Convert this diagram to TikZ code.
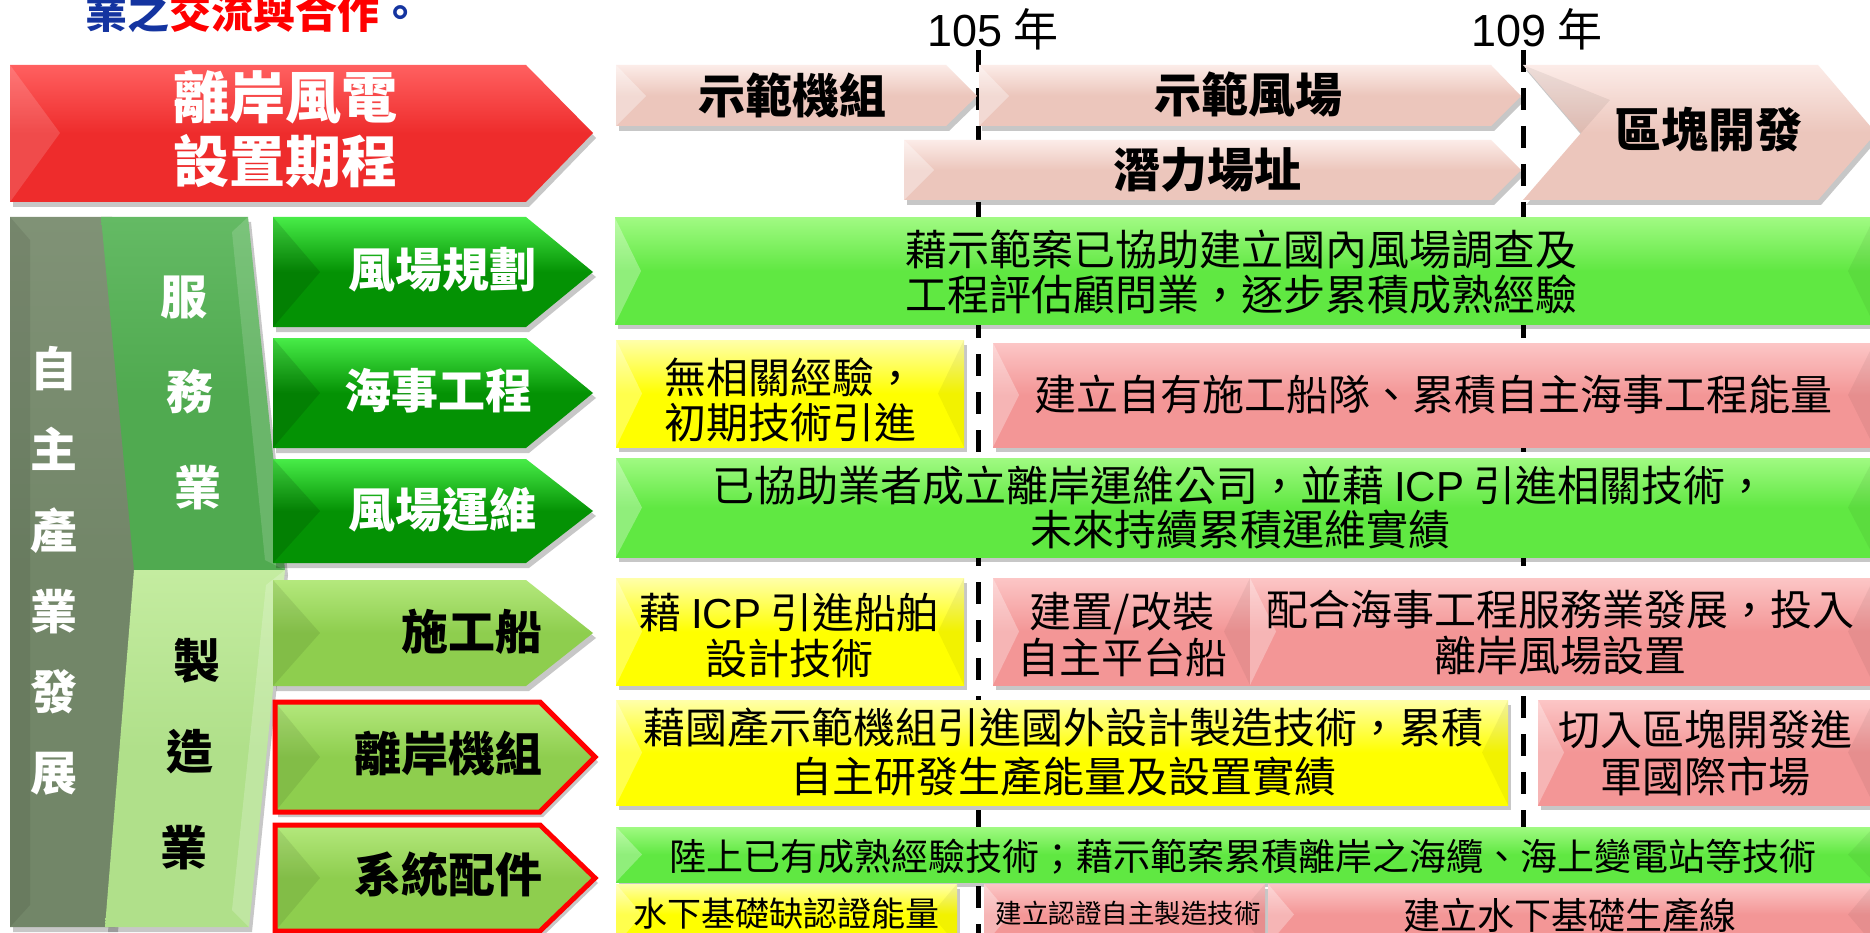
\documentclass[tikz,border=0pt]{standalone}
\usepackage{fontspec}
\setmainfont{Noto Sans CJK TC}
\newfontfamily\latinf{Liberation Sans}
\definecolor{hdrTop}{RGB}{252,236,232}
\definecolor{hdrBase}{RGB}{236,198,188}
\definecolor{redTop}{RGB}{255,96,96}
\definecolor{redBase}{RGB}{238,44,44}
\definecolor{dgTop}{RGB}{72,236,72}
\definecolor{dgBase}{RGB}{4,146,4}
\definecolor{lgTop}{RGB}{180,232,125}
\definecolor{lgBase}{RGB}{142,206,78}
\definecolor{bgTop}{RGB}{160,250,130}
\definecolor{bgBase}{RGB}{96,232,66}
\definecolor{byTop}{RGB}{255,255,170}
\definecolor{byBase}{RGB}{255,255,0}
\definecolor{bpTop}{RGB}{252,198,198}
\definecolor{bpBase}{RGB}{243,150,150}
\definecolor{grayTop}{RGB}{128,146,118}
\definecolor{grayBase}{RGB}{114,134,104}
\definecolor{midTop}{RGB}{100,186,100}
\definecolor{midBase}{RGB}{80,170,80}
\definecolor{paleTop}{RGB}{196,236,160}
\definecolor{paleBase}{RGB}{176,224,138}
\definecolor{topblue}{RGB}{20,52,160}
\definecolor{topred}{RGB}{255,0,0}
\newcommand{\Bx}[6]{%
  \fill[black,opacity=.22] (#1+3,#2+5) rectangle (#3+3,#4+5);
  \shade[top color=#5, bottom color=#6, middle color=#6] (#1,#2) rectangle (#3,#4);
  \fill[white,opacity=.3] (#1,#2) -- ({#1+26},{(#2+#4)/2}) -- (#1,#4) -- cycle;
  \fill[black,opacity=.05] (#3,#2) -- ({#3-26},{(#2+#4)/2}) -- (#3,#4) -- cycle;
}
\newcommand{\Shp}[3]{%
  \fill[black,opacity=.22,shift={(3,5)}] #1;
  \shade[top color=#2, bottom color=#3, middle color=#3] #1;
}
\begin{document}
\begin{tikzpicture}[x=1pt,y=-1pt,
  txt/.style={inner sep=0pt, align=center, text=black, font=\fontsize{42}{45}\selectfont},
  lbl/.style={inner sep=0pt, align=center, font=\bfseries\fontsize{47}{50}\selectfont},
  yr/.style={inner sep=0pt, text=black, font=\fontsize{45}{48}\selectfont},
  dline/.style={line width=5pt, black, dash pattern=on 22pt off 16pt}]
\useasboundingbox (0,0) rectangle (1870,933);
\fill[white] (0,0) rectangle (1870,933);

% top text
\node[inner sep=0pt, anchor=base west, font=\bfseries\fontsize{42}{45}\selectfont] (toptext) at (85,29)
  {{\color{topblue}業之}{\color{topred}交流與合作}{\color{topblue}。}};

% year labels and dashed lines
\node[yr, anchor=base] (y105) at (993,47) {{\latinf 105} 年};
\node[yr, anchor=base] (y109) at (1537,47) {{\latinf 109} 年};
\coordinate (d1a) at (978,50); \coordinate (d1b) at (978,940);
\coordinate (d2a) at (1523,50); \coordinate (d2b) at (1523,940);
\draw[dline] (d1a) -- (d1b);
\draw[dline] (d2a) -- (d2b);

% red header arrow
\Shp{(10,65) -- (526,65) -- (593,133) -- (526,202) -- (10,202) -- cycle}{redTop}{redBase}
\fill[white,opacity=.15] (10,65) -- (60,133) -- (10,202) -- cycle;
\node[lbl, text=white, font=\bfseries\fontsize{56}{64}\selectfont] (hdr) at (285,129) {離岸風電\\設置期程};

% timeline chevrons
\Shp{(616,65) -- (946,65) -- (977,96) -- (946,126) -- (616,126) -- cycle}{hdrTop}{hdrBase}
\fill[white,opacity=.35] (616,65) -- (646,96) -- (616,126) -- cycle;
\node[lbl, text=black] (t1) at (792,95) {示範機組};
\Shp{(979,65) -- (1491,65) -- (1521,96) -- (1491,126) -- (979,126) -- cycle}{hdrTop}{hdrBase}
\fill[white,opacity=.35] (979,65) -- (1009,96) -- (979,126) -- cycle;
\node[lbl, text=black] (t2) at (1248,95) {示範風場};
\Shp{(904,140) -- (1491,140) -- (1521,170) -- (1491,200) -- (904,200) -- cycle}{hdrTop}{hdrBase}
\fill[white,opacity=.35] (904,140) -- (934,170) -- (904,200) -- cycle;
\node[lbl, text=black] (t3) at (1207,170) {潛力場址};
\Shp{(1523,65) -- (1818,65) -- (1876,133) -- (1818,200) -- (1523,200) -- (1581,133) -- cycle}{hdrTop}{hdrBase}
\fill[black,opacity=.06] (1523,65) -- (1581,133) -- (1610,100) -- cycle;
\node[lbl, text=black] (t4) at (1708,130) {區塊開發};

% left column
\Shp{(10,217) -- (112,217) -- (145,570) -- (115,927) -- (10,927) -- cycle}{grayTop}{grayBase}
\fill[black,opacity=.08] (10,217) -- (30,240) -- (30,905) -- (10,927) -- cycle;
\Shp{(101,217) -- (248,217) -- (285,570) -- (134,570) -- cycle}{midTop}{midBase}
\fill[white,opacity=.15] (248,217) -- (285,570) -- (265,560) -- (232,232) -- cycle;
\Shp{(134,570) -- (285,570) -- (249,927) -- (105,927) -- cycle}{paleTop}{paleBase}
\fill[white,opacity=.2] (285,570) -- (249,927) -- (232,910) -- (266,585) -- cycle;
\node[lbl, text=white, font=\bfseries\fontsize{47}{80.8}\selectfont] (self) at (54,571) {自\\主\\產\\業\\發\\展};
\node[lbl, text=white] (sv1) at (184,297) {服};
\node[lbl, text=white] (sv2) at (190,392) {務};
\node[lbl, text=white] (sv3) at (198,488) {業};
\node[lbl, text=black] (mf1) at (197,661) {製};
\node[lbl, text=black] (mf2) at (190,752) {造};
\node[lbl, text=black] (mf3) at (184,848) {業};

% row label arrows
\Shp{(273,217) -- (526,217) -- (593,272) -- (526,327) -- (273,327) -- cycle}{dgTop}{dgBase}
\fill[black,opacity=.12] (273,217) -- (320,272) -- (273,327) -- cycle;
\node[lbl, text=white, anchor=east] (r1) at (537,270) {風場規劃};
\Shp{(273,338) -- (526,338) -- (593,393) -- (526,448) -- (273,448) -- cycle}{dgTop}{dgBase}
\fill[black,opacity=.12] (273,338) -- (320,393) -- (273,448) -- cycle;
\node[lbl, text=white, anchor=east] (r2) at (533,391) {海事工程};
\Shp{(273,459) -- (526,459) -- (593,511) -- (526,563) -- (273,563) -- cycle}{dgTop}{dgBase}
\fill[black,opacity=.12] (273,459) -- (320,511) -- (273,563) -- cycle;
\node[lbl, text=white, anchor=east] (r3) at (537,510) {風場運維};
\Shp{(273,580) -- (526,580) -- (593,633) -- (526,686) -- (273,686) -- cycle}{lgTop}{lgBase}
\fill[black,opacity=.08] (273,580) -- (320,633) -- (273,686) -- cycle;
\node[lbl, text=black, anchor=east] (r4) at (543,632) {施工船};
\Shp{(275,702) -- (540,702) -- (595,757) -- (540,812) -- (275,812) -- cycle}{lgTop}{lgBase}
\fill[black,opacity=.08] (275,702) -- (320,757) -- (275,812) -- cycle;
\draw[red, line width=5pt, line join=miter] (275,702) -- (540,702) -- (595,757) -- (540,812) -- (275,812) -- cycle;
\node[lbl, text=black, anchor=east] (r5) at (543,753) {離岸機組};
\Shp{(275,825) -- (540,825) -- (595,878) -- (540,931) -- (275,931) -- cycle}{lgTop}{lgBase}
\fill[black,opacity=.08] (275,825) -- (320,878) -- (275,931) -- cycle;
\draw[red, line width=5pt, line join=miter] (275,825) -- (540,825) -- (595,878) -- (540,931) -- (275,931) -- cycle;
\node[lbl, text=black, anchor=east] (r6) at (543,875) {系統配件};

% content boxes
\Bx{615}{218}{1874}{324}{bgTop}{bgBase}
\node[txt] (b1) at (1241,272.5) {藉示範案已協助建立國內風場調查及\\工程評估顧問業，逐步累積成熟經驗};

\Bx{616}{340}{964}{447}{byTop}{byBase}
\node[txt] (b2a) at (790,400) {無相關經驗，\\初期技術引進};
\Bx{993}{343}{1874}{447}{bpTop}{bpBase}
\node[txt] (b2b) at (1433,395) {建立自有施工船隊、累積自主海事工程能量};

\Bx{616}{458}{1874}{557}{bgTop}{bgBase}
\node[txt, font=\fontsize{42}{44}\selectfont] (b3) at (1240,507.5) {已協助業者成立離岸運維公司，並藉 {\latinf ICP} 引進相關技術，\\未來持續累積運維實績};

\Bx{616}{578}{964}{685}{byTop}{byBase}
\node[txt, font=\fontsize{42}{46}\selectfont] (b4a) at (789,635) {藉 {\latinf ICP} 引進船舶\\設計技術};
\Bx{993}{578}{1250}{685}{bpTop}{bpBase}
\node[txt, font=\fontsize{42}{46}\selectfont] (b4b) at (1122,635) {建置/改裝\\自主平台船};
\Bx{1250}{578}{1874}{685}{bpTop}{bpBase}
\node[txt, font=\fontsize{42}{46}\selectfont] (b4c) at (1560,633) {配合海事工程服務業發展，投入\\離岸風場設置};

\Bx{616}{700}{1508}{805}{byTop}{byBase}
\node[txt, font=\fontsize{42}{49}\selectfont] (b5a) at (1063,752.5) {藉國產示範機組引進國外設計製造技術，累積\\自主研發生產能量及設置實績};
\Bx{1538}{700}{1874}{805}{bpTop}{bpBase}
\node[txt, font=\fontsize{42}{47}\selectfont] (b5b) at (1705,753.5) {切入區塊開發進\\軍國際市場};

\Bx{616}{827}{1874}{882}{bgTop}{bgBase}
\node[txt, font=\fontsize{37}{40}\selectfont] (b6) at (1243,857) {陸上已有成熟經驗技術；藉示範案累積離岸之海纜、海上變電站等技術};
\Bx{616}{884}{957}{945}{byTop}{byBase}
\node[txt, font=\fontsize{34}{36}\selectfont] (b7a) at (786,913) {水下基礎缺認證能量};
\Bx{984}{884}{1265}{945}{bpTop}{bpBase}
\node[txt, font=\fontsize{26.5}{28}\selectfont] (b7b) at (1128,913) {建立認證自主製造技術};
\Bx{1268}{884}{1874}{945}{bpTop}{bpBase}
\node[txt, font=\fontsize{37}{40}\selectfont] (b7c) at (1570,915) {建立水下基礎生產線};
\end{tikzpicture}
\end{document}
